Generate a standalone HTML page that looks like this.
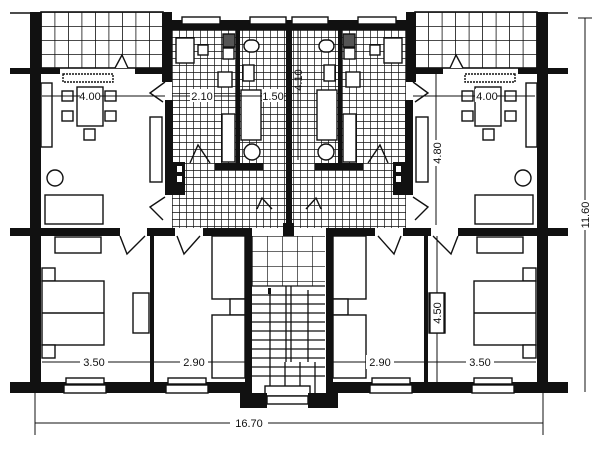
<!DOCTYPE html>
<html><head><meta charset="utf-8"><style>
html,body{margin:0;padding:0;background:#fff;width:600px;height:450px;overflow:hidden}
svg{display:block}
text{font-family:"Liberation Sans",sans-serif;font-size:11px;fill:#111}
</style></head><body>
<svg width="600" height="450" viewBox="0 0 600 450" xmlns="http://www.w3.org/2000/svg">
<defs>
<pattern id="fine" width="7" height="7" patternUnits="userSpaceOnUse" x="172" y="30"><rect width="7" height="7" fill="#fff"/><path d="M0 0H7M0 0V7" stroke="#111" stroke-width="1.4"/></pattern>
<pattern id="terr" width="13.5" height="14" patternUnits="userSpaceOnUse" x="41" y="12"><rect width="13.5" height="14" fill="#fff"/><path d="M0 0H13.5M0 0V14" stroke="#111" stroke-width="1.6"/></pattern>
<pattern id="stair" width="15" height="15" patternUnits="userSpaceOnUse" x="252" y="236"><rect width="15" height="15" fill="#fff"/><path d="M0 0H15M0 0V15" stroke="#111" stroke-width="1.3"/></pattern>
<g id="unit" stroke-width="1.4">
  <rect x="41" y="12" width="122" height="56" fill="url(#terr)" stroke="#111" stroke-width="1.6"/>
  <line x1="10" y1="13" x2="30" y2="13" stroke="#111" stroke-width="1.5"/>
  <rect x="172" y="30" width="116" height="198" fill="url(#fine)"/>
  <rect x="30" y="12" width="11" height="381" fill="#111"/>
  <rect x="10" y="68" width="50" height="6" fill="#111"/>
  <rect x="135" y="68" width="30" height="6" fill="#111"/>
  <path d="M115 68 L122 55 L128 68" fill="#fff" stroke="#111"/>
  <rect x="63" y="74" width="50" height="8" fill="#fff" stroke="#111" stroke-dasharray="2 1"/>
  <rect x="162" y="12" width="10" height="70" fill="#111"/>
  <rect x="165" y="100" width="8" height="95" fill="#111"/>
  <rect x="173" y="162" width="12" height="33" fill="#111"/>
  <rect x="177" y="166" width="5" height="6" fill="#fff"/><rect x="177" y="176" width="5" height="6" fill="#fff"/>
  <path d="M165 82 L150 93 L163 102" fill="#fff" stroke="#111"/>
  <path d="M165 197 L150 207 L163 220" fill="#fff" stroke="#111"/>
  <rect x="172" y="20" width="116" height="10" fill="#111"/>
  <rect x="182" y="17" width="38" height="7" fill="#fff" stroke="#111"/>
  <rect x="250" y="17" width="36" height="7" fill="#fff" stroke="#111"/>
  <rect x="236" y="30" width="4" height="136" fill="#111"/>
  <rect x="215" y="163" width="48" height="7" fill="#111"/>
  <rect x="176" y="38" width="18" height="25" fill="#fff" stroke="#111"/>
  <rect x="198" y="45" width="10" height="10" fill="#fff" stroke="#111"/>
  <rect x="223" y="34" width="12" height="13" fill="#555" stroke="#111"/>
  <rect x="223" y="48" width="11" height="11" fill="#fff" stroke="#111"/>
  <rect x="218" y="72" width="14" height="15" fill="#fff" stroke="#111"/>
  <rect x="222" y="114" width="13" height="48" fill="#fff" stroke="#111"/>
  <rect x="244" y="40" width="15" height="12" rx="6" fill="#fff" stroke="#111"/>
  <rect x="243" y="65" width="11" height="16" fill="#fff" stroke="#111"/>
  <rect x="241" y="90" width="20" height="50" fill="#fff" stroke="#111"/>
  <circle cx="252" cy="152" r="8" fill="#fff" stroke="#111"/>
  <path d="M190 163 L198 145 L210 163" fill="none" stroke="#111"/>
  <path d="M257 209 L262 198 L272 209" fill="none" stroke="#111"/>
  <rect x="286" y="20" width="3" height="216" fill="#111"/>
  <rect x="77" y="87" width="26" height="39" fill="#fff" stroke="#111"/>
  <rect x="62" y="91" width="11" height="10" fill="#fff" stroke="#111"/>
  <rect x="62" y="111" width="11" height="10" fill="#fff" stroke="#111"/>
  <rect x="105" y="91" width="11" height="10" fill="#fff" stroke="#111"/>
  <rect x="105" y="111" width="11" height="10" fill="#fff" stroke="#111"/>
  <rect x="84" y="129" width="11" height="11" fill="#fff" stroke="#111"/>
  <rect x="41" y="83" width="11" height="64" fill="#fff" stroke="#111"/>
  <rect x="150" y="117" width="12" height="65" fill="#fff" stroke="#111"/>
  <circle cx="55" cy="178" r="8" fill="#fff" stroke="#111"/>
  <rect x="45" y="195" width="58" height="29" fill="#fff" stroke="#111"/>
  <rect x="10" y="228" width="110" height="8" fill="#111"/>
  <rect x="147" y="228" width="28" height="8" fill="#111"/>
  <rect x="203" y="228" width="47" height="8" fill="#111"/>
  <path d="M120 236 L127 254 L145 236" fill="none" stroke="#111"/>
  <path d="M177 236 L184 254 L200 236" fill="none" stroke="#111"/>
  <rect x="150" y="236" width="4" height="150" fill="#111"/>
  <rect x="245" y="228" width="7" height="180" fill="#111"/>
  <rect x="55" y="237" width="46" height="16" fill="#fff" stroke="#111"/>
  <rect x="42" y="268" width="13" height="13" fill="#fff" stroke="#111"/>
  <rect x="42" y="281" width="62" height="64" fill="#fff" stroke="#111"/>
  <line x1="42" y1="313" x2="104" y2="313" stroke="#111"/>
  <rect x="42" y="345" width="13" height="13" fill="#fff" stroke="#111"/>
  <rect x="133" y="293" width="16" height="40" fill="#fff" stroke="#111"/>
  <rect x="212" y="236" width="33" height="63" fill="#fff" stroke="#111"/>
  <rect x="230" y="299" width="15" height="16" fill="#fff" stroke="#111"/>
  <rect x="212" y="315" width="33" height="63" fill="#fff" stroke="#111"/>
  <rect x="10" y="382" width="240" height="11" fill="#111"/>
  <rect x="240" y="393" width="25" height="15" fill="#111"/>
  <rect x="66" y="378" width="38" height="6" fill="#fff" stroke="#111"/>
  <rect x="64" y="385" width="42" height="8" fill="#fff" stroke="#111"/>
  <rect x="168" y="378" width="38" height="6" fill="#fff" stroke="#111"/>
  <rect x="166" y="385" width="42" height="8" fill="#fff" stroke="#111"/>
</g>
</defs>
<use href="#unit"/>
<use href="#unit" transform="translate(578,0) scale(-1,1)"/>
<rect x="252" y="236" width="73" height="150" fill="url(#stair)"/>
<rect x="252" y="286" width="73" height="100" fill="#fff"/>
<g stroke="#111" stroke-width="1.3">
  <line x1="286" y1="286" x2="286" y2="362"/><line x1="291" y1="286" x2="291" y2="362"/>
  <path d="M252 286H325M252 295H325M252 304H325M252 313H325M252 322H325M252 331H325M252 340H325M252 349H325M252 358H325"/>
  <path d="M252 367H325M252 376H325M270 362V393M285 362V393M300 362V393M315 362V393"/>
  <line x1="270" y1="290" x2="270" y2="362"/><line x1="308" y1="290" x2="308" y2="362"/>
</g>
<rect x="268" y="288" width="3" height="6" fill="#111"/>
<rect x="265" y="386" width="45" height="10" fill="#fff" stroke="#111" stroke-width="1.4"/>
<rect x="267" y="396" width="41" height="8" fill="#fff" stroke="#111" stroke-width="1.4"/>
<rect x="250" y="393" width="17" height="15" fill="#111"/>
<rect x="308" y="393" width="27" height="15" fill="#111"/>
<rect x="283" y="223" width="11" height="13" fill="#111"/>
<g stroke="#111" stroke-width="1" fill="none">
  <line x1="42" y1="96" x2="165" y2="96"/><line x1="172" y1="96" x2="288" y2="96"/>
  <line x1="413" y1="96" x2="535" y2="96"/>
  <line x1="298" y1="25" x2="298" y2="160"/>
  <line x1="436" y1="73" x2="436" y2="225"/>
  <line x1="437" y1="236" x2="437" y2="382"/>
  <line x1="42" y1="362" x2="245" y2="362"/>
  <line x1="332" y1="362" x2="536" y2="362"/>
  <line x1="35" y1="393" x2="35" y2="435"/><line x1="543" y1="393" x2="543" y2="435"/>
  <line x1="35" y1="423" x2="543" y2="423"/>
  <line x1="585" y1="18" x2="585" y2="392"/>
  <line x1="578" y1="18" x2="592" y2="18"/>
</g>
<g fill="#fff">
  <rect x="80" y="89" width="20" height="13"/><rect x="190" y="89" width="24" height="13"/>
  <rect x="262" y="89" width="22" height="13"/><rect x="475" y="89" width="22" height="13"/>
  <rect x="80" y="355" width="28" height="14"/><rect x="180" y="355" width="28" height="14"/>
  <rect x="366" y="355" width="28" height="14"/><rect x="466" y="355" width="28" height="14"/>
  <rect x="230" y="416" width="38" height="14"/><rect x="579" y="200" width="13" height="30"/>
  <rect x="430" y="140" width="13" height="26"/>
</g>
<rect x="430" y="293" width="14" height="40" fill="#fff" stroke="#111" stroke-width="1.3"/>
<text x="90" y="100" text-anchor="middle">4.00</text>
<text x="202" y="100" text-anchor="middle">2.10</text>
<text x="273" y="100" text-anchor="middle">1.50</text>
<text x="487" y="100" text-anchor="middle">4.00</text>
<text x="94" y="366" text-anchor="middle">3.50</text>
<text x="194" y="366" text-anchor="middle">2.90</text>
<text x="380" y="366" text-anchor="middle">2.90</text>
<text x="480" y="366" text-anchor="middle">3.50</text>
<text x="249" y="427" text-anchor="middle">16.70</text>
<text transform="translate(302,80) rotate(-90)" text-anchor="middle">4.10</text>
<text transform="translate(441,153) rotate(-90)" text-anchor="middle">4.80</text>
<text transform="translate(441,313) rotate(-90)" text-anchor="middle">4.50</text>
<text transform="translate(589,215) rotate(-90)" text-anchor="middle">11.60</text>
</svg>
</body></html>
